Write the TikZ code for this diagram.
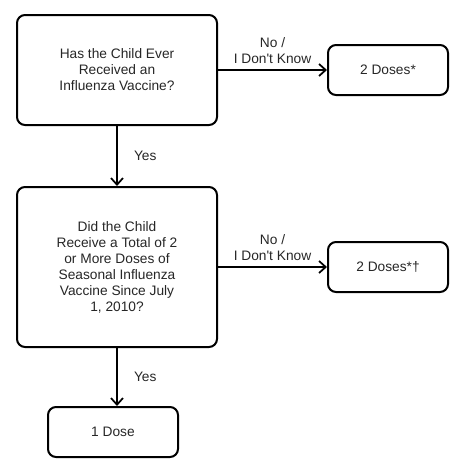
\documentclass[tikz,border=0pt]{standalone}
\usepackage{fontspec}
\setmainfont{Liberation Sans}
\usetikzlibrary{arrows.meta}
\begin{document}
\begin{tikzpicture}[x=0.75pt,y=-0.75pt,
  box/.style={draw=black, line width=1.5pt, rounded corners=6pt, align=center,
    font=\fontsize{10.3pt}{12pt}\selectfont, inner sep=0pt, text=black!85},
  conn/.style={line width=1.5pt, -{Straight Barb[length=5pt,width=9pt,line width=1.3pt]}},
  lbl/.style={font=\fontsize{10.3pt}{12pt}\selectfont, align=center, inner sep=2pt, text=black!85}]
\useasboundingbox (0,0) rectangle (459,468);
\node[box, minimum width=150pt, minimum height=82.5pt] (q1) at (117,70) {Has the Child Ever\\Received an\\Influenza Vaccine?};
\node[box, minimum width=90pt, minimum height=37.5pt] (d2a) at (388,70) {2 Doses*};
\node[box, minimum width=150pt, minimum height=120pt] (q2) at (117,267) {Did the Child\\Receive a Total of 2\\or More Doses of\\Seasonal Influenza\\Vaccine Since July\\1, 2010?};
\node[box, minimum width=90pt, minimum height=37.5pt] (d2b) at (388,267) {2 Doses*†};
\node[box, minimum width=97.5pt, minimum height=37.5pt] (d1) at (113,432) {1 Dose};
\draw[conn] (q1.east) -- node[lbl, above=2pt] (l1) {No /\\I Don\textquotesingle t Know} (d2a.west);
\draw[conn] (q2.east) -- node[lbl, above=2pt] (l2) {No /\\I Don\textquotesingle t Know} (d2b.west);
\draw[conn] (q1.south) -- node[lbl, right=10pt] (y1) {Yes} (q2.north);
\draw[conn] (q2.south) -- node[lbl, right=10pt] (y2) {Yes} (q2.south |- d1.north);
\end{tikzpicture}
\end{document}
